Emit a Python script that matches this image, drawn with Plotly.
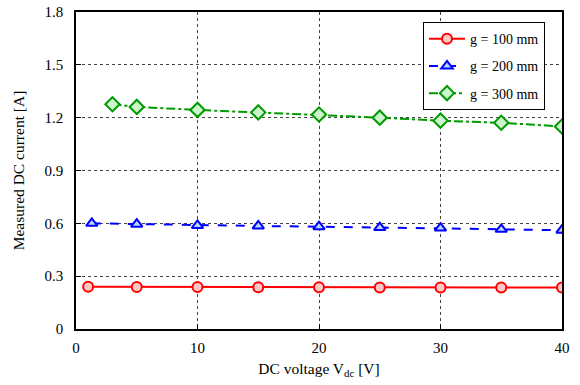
import plotly.graph_objects as go

x_red = [1, 5, 10, 15, 20, 25, 30, 35, 40]
y_red = [0.240, 0.239, 0.238, 0.237, 0.237, 0.236, 0.236, 0.235, 0.235]

x_blue = [1.3, 5, 10, 15, 20, 25, 30, 35, 40]
y_blue = [0.600, 0.595, 0.588, 0.585, 0.581, 0.576, 0.573, 0.566, 0.561]

x_green = [3, 5, 10, 15, 20, 25, 30, 35, 40]
y_green = [1.276, 1.261, 1.244, 1.230, 1.218, 1.200, 1.183, 1.171, 1.150]

names = ["g = 100 mm", "g = 200 mm", "g = 300 mm"]

FONT = "'Liberation Serif', 'Times New Roman', Times, serif"

fig = go.Figure()
fig.add_trace(go.Scatter(
    x=x_red, y=y_red, name=names[0], legendgroup="a", mode="lines+markers",
    line=dict(color="#ff0000", width=2, dash="solid"),
    marker=dict(symbol="circle", size=10, color="#ffc8c8",
                line=dict(color="#ff0000", width=2))))
fig.add_trace(go.Scatter(
    x=x_blue, y=y_blue, name=names[1], legendgroup="b", mode="lines+markers",
    line=dict(color="#0000ff", width=2, dash="dash"),
    marker=dict(symbol="triangle-up", size=10, color="#b4d8ff",
                line=dict(color="#0000ff", width=2))))
fig.add_trace(go.Scatter(
    x=x_green, y=y_green, name=names[2], legendgroup="c", mode="lines+markers",
    line=dict(color="#009900", width=2, dash="dashdot"),
    marker=dict(symbol="diamond", size=11, color="#ccf5cc",
                line=dict(color="#009900", width=2))))

axis_common = dict(
    showline=True, linecolor="black", linewidth=1.5, mirror=True,
    ticks="inside", ticklen=5, tickcolor="black",
    showgrid=True, gridcolor="#444444", gridwidth=1, griddash="dot",
    zeroline=False, automargin=False,
    tickfont=dict(family=FONT, size=15, color="black"),
)

fig.update_layout(
    width=580, height=385,
    margin=dict(l=76, r=18, t=12, b=56),
    paper_bgcolor="white", plot_bgcolor="white",
    font=dict(family=FONT, size=15, color="black"),
    xaxis=dict(range=[0, 40], tickvals=[0, 10, 20, 30, 40],
               ticklabelstandoff=4,
               title=dict(text="DC voltage V<sub>dc</sub> [V]",
                          font=dict(family=FONT, size=15.5), standoff=8),
               **axis_common),
    yaxis=dict(range=[0, 1.8], tickvals=[0, 0.3, 0.6, 0.9, 1.2, 1.5, 1.8],
               ticktext=["0", "0.3", "0.6", "0.9", "1.2", "1.5", "1.8"],
               ticklabelstandoff=8,
               title=dict(text="Measured DC current [A]",
                          font=dict(family=FONT, size=15.5), standoff=16),
               **axis_common),
    legend=dict(x=0.714, y=0.968, xanchor="left", yanchor="top",
                bgcolor="white", bordercolor="black", borderwidth=1,
                font=dict(family=FONT, size=14),
                traceorder="grouped", tracegroupgap=6,
                itemwidth=36),
    showlegend=True,
)

fig.write_html("out.html", config={"displayModeBar": False},
               post_script="document.body.style.margin='0';document.body.style.padding='0';")
